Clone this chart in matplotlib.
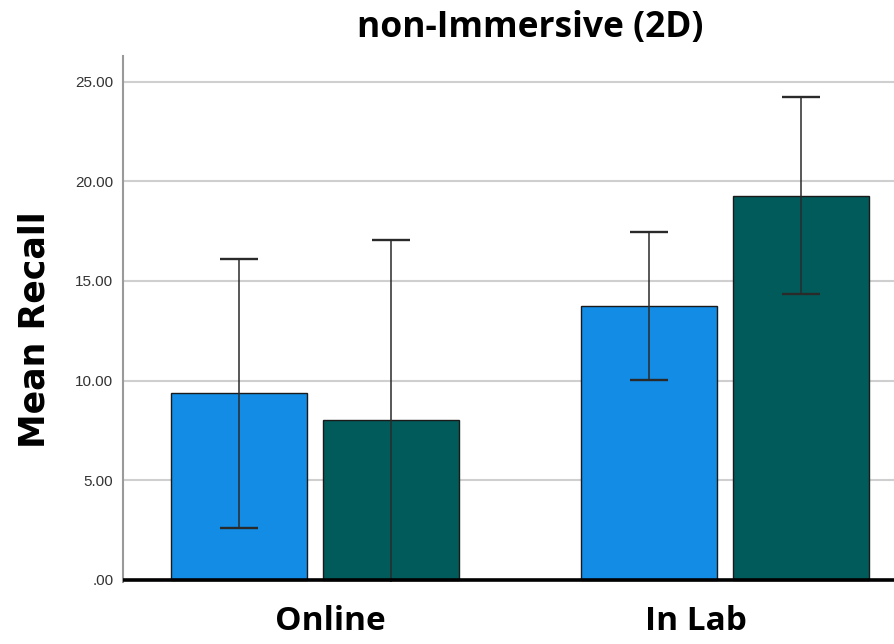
import matplotlib
matplotlib.use("Agg")
import matplotlib.pyplot as plt
import numpy as np

# Mean recall per setting, with 95% CI half-widths
settings = ["Online", "In Lab"]
blue_means = [9.36, 13.75]
blue_ci = [6.75, 3.72]
teal_means = [8.00, 19.29]
teal_ci = [9.06, 4.95]
yticks = [0, 5, 10, 15, 20, 25]
ytick_labels = [".00", "5.00", "10.00", "15.00", "20.00", "25.00"]

BLUE = "#128ce4"
TEAL = "#015b5a"
EDGE = "#1a1a1a"

fig = plt.figure(figsize=(8.95, 6.44), dpi=100)
ax = fig.add_axes([123 / 895, 1 - 582 / 644, 1 - 123 / 895, (582 - 56) / 644])

x = np.arange(len(settings))
width = 0.332
offset = 0.185

# ── Grille ───────────────────────────────────────────────────────────────
for v in yticks[1:]:
    ax.axhline(v, color="#cfcfcf", linewidth=1.5, zorder=1)

ax.bar(x - offset, blue_means, width, color=BLUE, edgecolor=EDGE,
       linewidth=1.0, zorder=2)
ax.bar(x + offset, teal_means, width, color=TEAL, edgecolor=EDGE,
       linewidth=1.0, zorder=2)

err_kw = dict(fmt="none", ecolor="#2a2a2a", elinewidth=1.1,
              capsize=13.5, capthick=1.7, zorder=3)
ax.errorbar(x - offset, blue_means, yerr=blue_ci, **err_kw)
ax.errorbar(x + offset, teal_means, yerr=teal_ci, **err_kw)

# Ligne de base épaisse
ax.axhline(0, color="black", linewidth=2.6, zorder=4)

ax.set_xlim(-0.468, 1.415)
ax.set_ylim(-0.12, 26.3)
ax.set_xticks([])
ax.set_yticks(yticks)
ax.set_yticklabels(ytick_labels, fontsize=11, color="#333333",
                   fontfamily="Liberation Sans")
ax.tick_params(axis="y", length=0, pad=7)

for side in ["top", "right", "bottom"]:
    ax.spines[side].set_visible(False)
ax.spines["left"].set_color("#9a9a9a")
ax.spines["left"].set_linewidth(1.5)

# ── Textes ───────────────────────────────────────────────────────────────
fig.text(530 / 895, 1 - 28 / 644, "non-Immersive (2D)", ha="center",
         va="center", fontsize=25.5, fontweight="bold", fontfamily="Open Sans")
fig.text(35 / 895, 1 - 330 / 644, "Mean Recall", rotation=90, ha="center",
         va="center", fontsize=25, fontweight="bold",
         fontfamily="DejaVu Sans")
for label, px in zip(settings, [330, 696]):
    fig.text(px / 895, 1 - 622 / 644, label, ha="center", va="center",
             fontsize=24, fontweight="bold", fontfamily="Open Sans")

fig.savefig("out.png", dpi=100)
